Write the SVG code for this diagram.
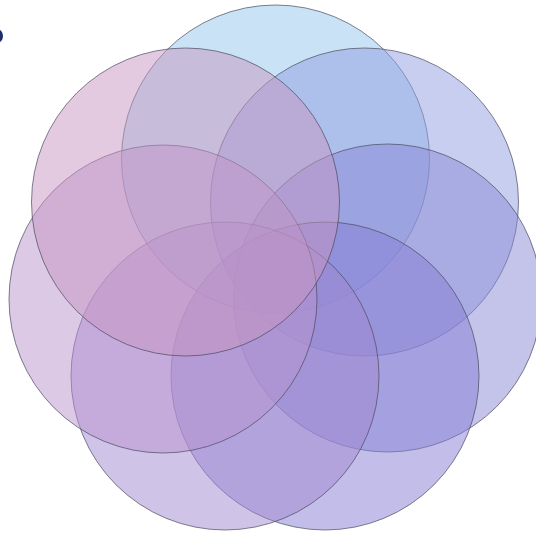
<svg xmlns="http://www.w3.org/2000/svg" width="536" height="534" viewBox="0 0 536 534">
<style>
.c{fill-opacity:0.5;stroke:#4a4a5e;stroke-opacity:0.7;stroke-width:1}
</style>
<rect width="536" height="534" fill="#ffffff"/>
<ellipse cx="-3" cy="36" rx="6" ry="7" fill="#1b2d6b"/>
<g id="top"><circle class="c" cx="275.5" cy="159" r="154" fill="#93c5eb"/></g>
<g id="top-right"><circle class="c" cx="364.5" cy="202" r="154" fill="#919de1"/></g>
<g id="right"><circle class="c" cx="387.5" cy="298" r="154" fill="#8987d5"/></g>
<g id="bottom-right"><circle class="c" cx="325" cy="376" r="154" fill="#857dd3"/></g>
<g id="bottom-left"><circle class="c" cx="225" cy="376" r="154" fill="#a187d1"/></g>
<g id="left"><circle class="c" cx="163" cy="299" r="154" fill="#b793cd"/></g>
<g id="top-left"><circle class="c" cx="185.5" cy="202" r="154" fill="#c795c1"/></g>
<g id="connectors"></g>
</svg>
